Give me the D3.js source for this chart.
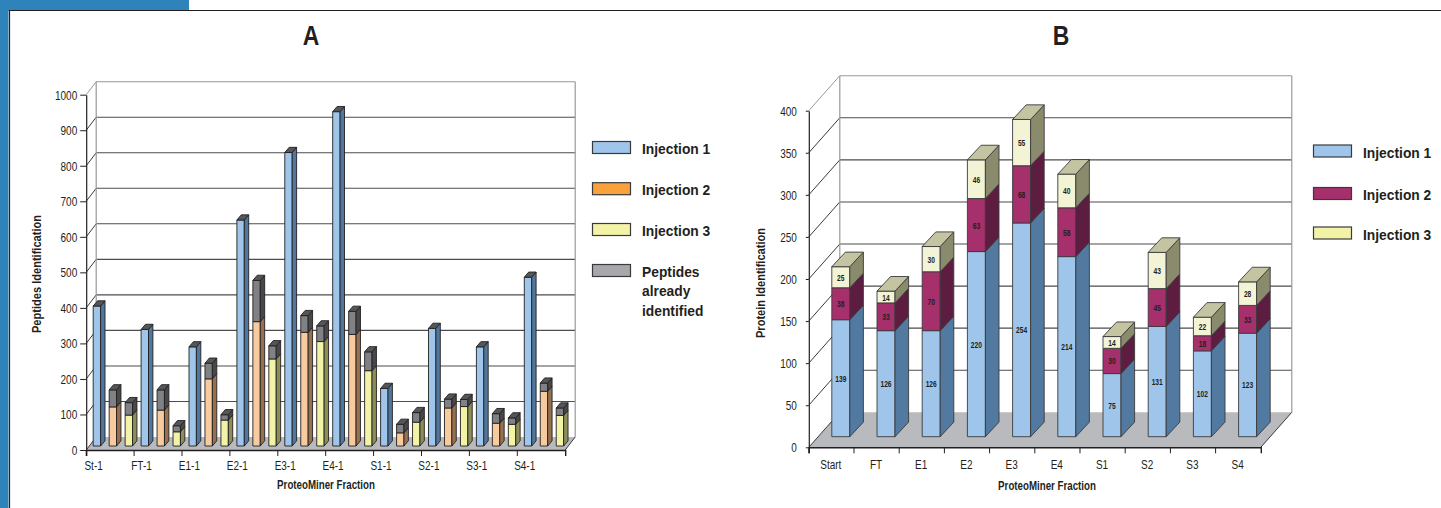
<!DOCTYPE html>
<html>
<head>
<meta charset="utf-8">
<script src="https://cdn.jsdelivr.net/npm/d3@7"></script>
<style>
  html, body { margin: 0; padding: 0; background: #fff; }
  svg { display: block; }
  text { font-family: "Liberation Sans", sans-serif; fill: #231f20; }
  .axis path, .axis line { stroke: #231f20; }
  .axis text { font-size: 13.5px; fill: #231f20; }
  .title { font-size: 27px; font-weight: bold; text-anchor: middle; }
  .axis-title { font-size: 12px; font-weight: bold; text-anchor: middle; }
  .axis-title-y { font-size: 13.5px; font-weight: bold; text-anchor: middle; }
  .legend-text { font-size: 15px; font-weight: bold; }
  .value-label { font-size: 9.5px; font-weight: bold; text-anchor: middle; dominant-baseline: central; }
</style>
</head>
<body>
<svg id="page" width="1441" height="508"></svg>
<script>
// Panel A, peptides per fraction
const fractionsA = ['St-1', 'FT-1', 'E1-1', 'E2-1', 'E3-1', 'E4-1', 'S1-1', 'S2-1', 'S3-1', 'S4-1'];
const ticksA = [0, 100, 200, 300, 400, 500, 600, 700, 800, 900, 1000];
const injection1A = [394, 328, 279, 636, 826, 941, 162, 331, 279, 475];
const injection2A = [110, 101, 189, 350, 320, 314, 37, 107, 64, 154];
const injection2KnownA = [48, 57, 44, 116, 47, 65, 24, 25, 27, 23];
const injection3A = [87, 40, 73, 245, 294, 212, 67, 111, 61, 86];
const injection3KnownA = [35, 17, 15, 37, 44, 53, 27, 20, 18, 21];
const legendA = ['Injection 1', 'Injection 2', 'Injection 3'];
const legendA4 = ['Peptides', 'already', 'identified'];

// Panel B, proteins per fraction
const fractionsB = ['Start', 'FT', 'E1', 'E2', 'E3', 'E4', 'S1', 'S2', 'S3', 'S4'];
const ticksB = [0, 50, 100, 150, 200, 250, 300, 350, 400];
const injection1B = [139, 126, 126, 220, 254, 214, 75, 131, 102, 123];
const injection2B = [38, 33, 70, 63, 68, 58, 30, 45, 18, 33];
const injection3B = [25, 14, 30, 46, 55, 40, 14, 43, 22, 28];
const legendB = ['Injection 1', 'Injection 2', 'Injection 3'];

const blueShade = { front: '#9fc6ea', side: '#50789f', top: '#555658' };
const peachShade = { front: '#f8cb9e', side: '#97714f', top: '#555658' };
const yellowShade = { front: '#f3f3a8', side: '#8a8f58', top: '#555658' };
const greyShade = { front: '#808184', side: '#47484a', top: '#555658' };
const blueShadeB = { front: '#9fc6ea', side: '#52799f', top: '#52799f' };
const maroonShadeB = { front: '#a5306c', side: '#5c1d40', top: '#5c1d40' };
const creamShadeB = { front: '#f3f3d5', side: '#8a8a6c', top: '#c4c4a2' };

const svg = d3.select('#page');

// page frame
svg.append('rect').attr('x', 0).attr('y', 0).attr('width', 189).attr('height', 11).attr('fill', '#2e83bb');
svg.append('rect').attr('x', 0).attr('y', 0).attr('width', 8.5).attr('height', 508).attr('fill', '#2e83bb');
svg.append('path').attr('d', 'M1441,10.5H9.5V508').attr('fill', 'none').attr('stroke', '#231f20').attr('stroke-width', 1.2);

function poly(g, pts, fill, stroke) {
  g.append('polygon')
    .attr('points', pts.map(p => p.join(',')).join(' '))
    .attr('fill', fill)
    .attr('stroke', stroke)
    .attr('stroke-width', 0.9)
    .attr('stroke-linejoin', 'round');
}

// one box of a 3d bar, x is the left of the front face
function box(g, x, w, y0, y1, dx, dy, shade, stroke) {
  poly(g, [[x, y0], [x + w, y0], [x + w, y1], [x, y1]], shade.front, stroke);
  poly(g, [[x + w, y0], [x + w + dx, y0 - dy], [x + w + dx, y1 - dy], [x + w, y1]], shade.side, stroke);
}

function lid(g, x, w, y, dx, dy, shade, stroke) {
  poly(g, [[x, y], [x + w, y], [x + w + dx, y - dy], [x + dx, y - dy]], shade.top, stroke);
}

// walls, floor and both axes
function frame(opts) {
  const g = svg.append('g');
  const { x, y, ticks, depthX, depthY } = opts;
  const [left, right] = x.range();
  const base = y(0);
  const top = y(ticks[ticks.length - 1]);

  poly(g, [[left, base], [left + depthX, base - depthY], [right + depthX, base - depthY], [right, base]], '#b9babd', 'none');

  g.selectAll('.grid').data(ticks.slice(1)).enter().append('line')
    .attr('class', 'grid')
    .attr('x1', left + depthX).attr('x2', right + depthX)
    .attr('y1', d => y(d) - depthY).attr('y2', d => y(d) - depthY)
    .attr('stroke', (d, i) => i === ticks.length - 2 ? '#98999b' : '#4d4d4f')
    .attr('stroke-width', 1.1);

  g.selectAll('.diag').data(ticks).enter().append('line')
    .attr('class', 'diag')
    .attr('x1', left).attr('x2', left + depthX)
    .attr('y1', d => y(d)).attr('y2', d => y(d) - depthY)
    .attr('stroke', (d, i) => i === ticks.length - 1 ? '#98999b' : '#3a3a3c')
    .attr('stroke-width', 1);

  [left + depthX, right + depthX].forEach(wx => {
    g.append('line')
      .attr('x1', wx).attr('x2', wx)
      .attr('y1', top - depthY).attr('y2', base - depthY)
      .attr('stroke', '#98999b').attr('stroke-width', 1.2);
  });

  g.append('line')
    .attr('x1', right).attr('x2', right + depthX)
    .attr('y1', base).attr('y2', base - depthY)
    .attr('stroke', '#3a3a3c');

  return g;
}

function axes(opts) {
  const { x, y, ticks, labelShift, tickY, tickX } = opts;
  const half = x.bandwidth() / 2;

  const ax = svg.append('g')
    .attr('class', 'axis')
    .attr('transform', 'translate(0,' + y(0) + ')')
    .call(d3.axisBottom(x).tickSize(tickX).tickSizeOuter(tickX).tickPadding(opts.padX));
  ax.selectAll('.tick line').attr('x1', -half).attr('x2', -half);
  ax.selectAll('.tick text').attr('x', labelShift - half);
  ax.select('.domain').attr('stroke-width', 1.4);

  const ay = svg.append('g')
    .attr('class', 'axis')
    .attr('transform', 'translate(' + x.range()[0] + ',0)')
    .call(d3.axisLeft(y).tickValues(ticks).tickSize(tickY).tickSizeOuter(0).tickPadding(opts.padY).tickFormat(d3.format('d')));
  ay.select('.domain').attr('stroke-width', 1.2);
}

function legend(items, x, ys, shades) {
  const g = svg.append('g');
  items.forEach((name, i) => {
    g.append('rect')
      .attr('x', x).attr('y', ys[i])
      .attr('width', 38).attr('height', 12)
      .attr('fill', shades[i])
      .attr('stroke', '#3a3a3c').attr('stroke-width', 1.2);
    g.append('text')
      .attr('class', 'legend-text')
      .attr('x', x + 49.5).attr('y', ys[i] + 12.7)
      .text(name);
  });
  return g;
}

// ---------- panel A
const xA = d3.scaleBand().domain(fractionsA).range([86.2, 565.2]);
const yA = d3.scaleLinear().domain([0, 1000]).range([450, 94.7]);
const slotA = d3.scaleBand().domain([0, 1, 2]).range([0, xA.bandwidth()]);

svg.append('text').attr('class', 'title').attr('x', 311).attr('y', 45).text('A');

frame({ x: xA, y: yA, ticks: ticksA, depthX: 10, depthY: 13 });

const barsA = svg.append('g');
const liftA = 4;
const hA = v => yA(v) - liftA;
const barW = 7.4, barDx = 4.4, barDy = 5.2, barOff = 7;

fractionsA.forEach((f, i) => {
  const x0 = xA(f) + barOff;
  // injection 1 has no already identified part
  box(barsA, x0, barW, hA(0), hA(injection1A[i]), barDx, barDy, blueShade, '#231f20');
  lid(barsA, x0, barW, hA(injection1A[i]), barDx, barDy, blueShade, '#231f20');

  const x1 = x0 + slotA(1);
  const top2 = injection2A[i] + injection2KnownA[i];
  box(barsA, x1, barW, hA(0), hA(injection2A[i]), barDx, barDy, peachShade, '#231f20');
  box(barsA, x1, barW, hA(injection2A[i]), hA(top2), barDx, barDy, greyShade, '#231f20');
  lid(barsA, x1, barW, hA(top2), barDx, barDy, greyShade, '#231f20');

  const x2 = x0 + slotA(2);
  const top3 = injection3A[i] + injection3KnownA[i];
  box(barsA, x2, barW, hA(0), hA(injection3A[i]), barDx, barDy, yellowShade, '#231f20');
  box(barsA, x2, barW, hA(injection3A[i]), hA(top3), barDx, barDy, greyShade, '#231f20');
  lid(barsA, x2, barW, hA(top3), barDx, barDy, greyShade, '#231f20');
});

axes({ x: xA, y: yA, ticks: ticksA, labelShift: 7.4, tickY: 6, tickX: 6, padX: 4, padY: 3 });

svg.append('text').attr('class', 'axis-title-y')
  .attr('transform', 'translate(41,274) rotate(-90)')
  .text('Peptides Identification');
svg.append('text').attr('class', 'axis-title').attr('x', 326).attr('y', 489).text('ProteoMiner Fraction');

legend(legendA.concat(legendA4[0]), 592.5, [141.5, 182.7, 223.5, 264.5], ['#9fc6ea', '#f9a23c', '#f3f3a8', '#a7a8ab']);
svg.append('text').attr('class', 'legend-text').attr('x', 642).attr('y', 296).text(legendA4[1]);
svg.append('text').attr('class', 'legend-text').attr('x', 642).attr('y', 315.5).text(legendA4[2]);

// ---------- panel B
const xB = d3.scaleBand().domain(fractionsB).range([808.8, 1260.8]);
const yB = d3.scaleLinear().domain([0, 400]).range([447.3, 110.7]);

svg.append('text').attr('class', 'title').attr('x', 1061).attr('y', 45).text('B');

frame({ x: xB, y: yB, ticks: ticksB, depthX: 31, depthY: 35 });

const barsB = svg.append('g');
const liftB = 10.6;
const hB = v => yB(v) - liftB;
const stackW = 18, stackDx = 13.6, stackDy = 14.6, stackOff = 23;

fractionsB.forEach((f, i) => {
  const x0 = xB(f) + stackOff;
  const a = injection1B[i], b = injection2B[i], c = injection3B[i];
  box(barsB, x0, stackW, hB(0), hB(a), stackDx, stackDy, blueShadeB, '#3a3a3c');
  box(barsB, x0, stackW, hB(a), hB(a + b), stackDx, stackDy, maroonShadeB, '#3a3a3c');
  box(barsB, x0, stackW, hB(a + b), hB(a + b + c), stackDx, stackDy, creamShadeB, '#3a3a3c');
  lid(barsB, x0, stackW, hB(a + b + c), stackDx, stackDy, creamShadeB, '#3a3a3c');

  [[0, a], [a, a + b], [a + b, a + b + c]].forEach(s => {
    barsB.append('text')
      .attr('class', 'value-label')
      .attr('x', x0 + stackW / 2)
      .attr('y', (hB(s[0]) + hB(s[1])) / 2)
      .text(s[1] - s[0]);
  });
});

axes({ x: xB, y: yB, ticks: ticksB, labelShift: 22, tickY: 3, tickX: 6, padX: 6, padY: 9 });

svg.append('text').attr('class', 'axis-title-y')
  .attr('transform', 'translate(765,283) rotate(-90)')
  .text('Protein Identification');
svg.append('text').attr('class', 'axis-title').attr('x', 1047).attr('y', 490).text('ProteoMiner Fraction');

legend(legendB, 1313.5, [145, 187.5, 227], ['#9fc6ea', '#a5306c', '#f3f3a8']);

// no narrow face is installed, so squeeze the glyphs to the condensed widths of the original
function squeeze(selector, factor) {
  svg.selectAll(selector).each(function () {
    const len = this.getComputedTextLength();
    d3.select(this).attr('textLength', len * factor).attr('lengthAdjust', 'spacingAndGlyphs');
  });
}
squeeze('.axis text', 0.74);
squeeze('.title', 0.85);
squeeze('.axis-title', 0.81);
squeeze('.axis-title-y', 0.82);
squeeze('.legend-text', 0.92);
squeeze('.value-label', 0.7);
</script>
</body>
</html>
